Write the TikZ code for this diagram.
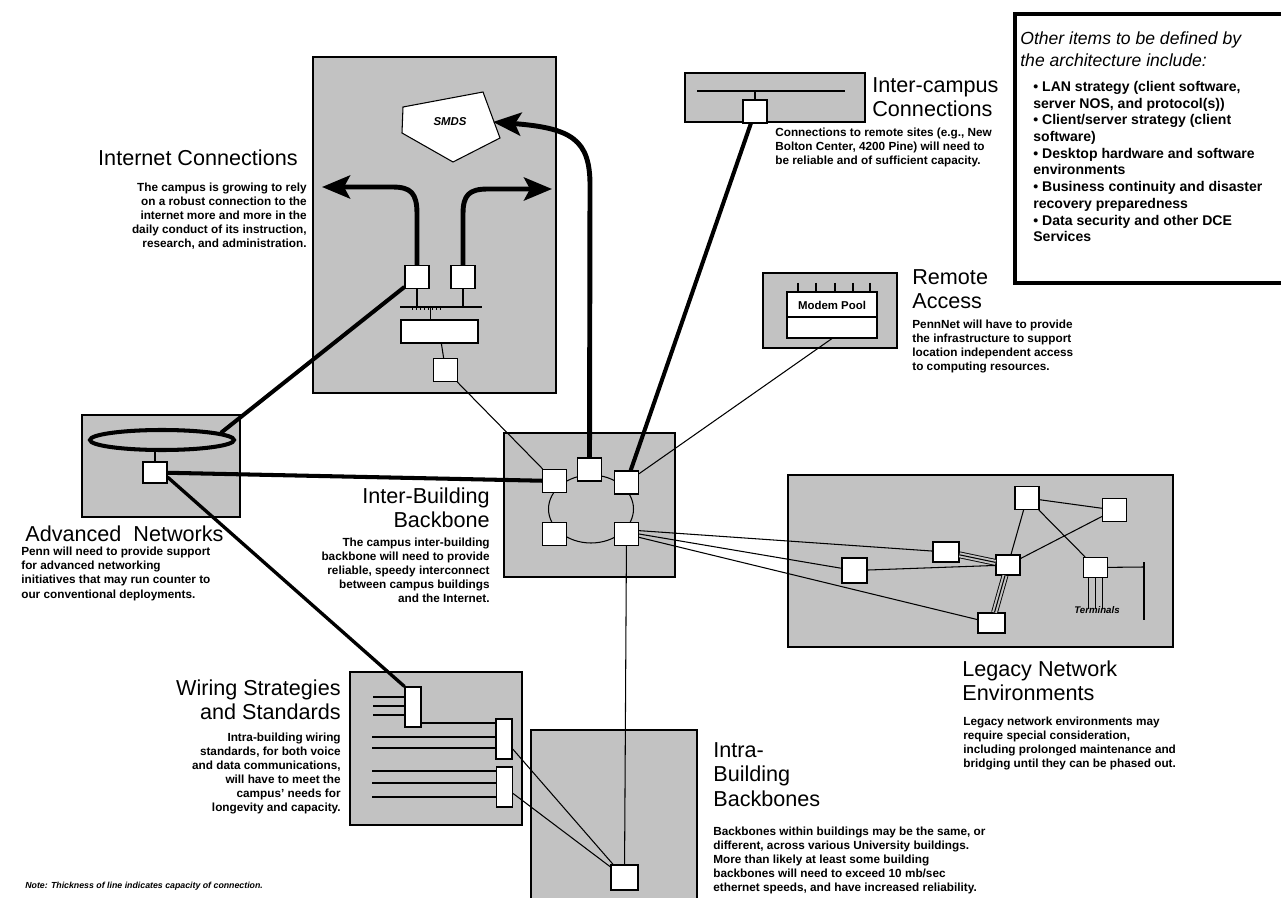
\documentclass[tikz,border=0pt]{standalone}
\usepackage{fontspec}
\setmainfont{Liberation Sans}
\usepackage{tikz}
\usetikzlibrary{arrows.meta,shapes.geometric,calc}
\usepackage{xcolor}
\definecolor{stipple}{gray}{0.76}

\tikzset{
  panel/.style={draw=black, line width=0.6pt, fill=stipple},
  dev/.style={draw=black, fill=white, line width=0.6pt, inner sep=0pt,
    minimum width=0.48cm, minimum height=0.46cm},
  link/.style={line width=0.6pt},
  trunk/.style={line width=2.3pt},
  bigarrow/.style={line width=2.8pt,
    -{Stealth[length=0.56cm, width=0.46cm, inset=0.12cm]}},
  triple/.style={line width=0.5pt, double=stipple, double distance=0.1cm},
  heading/.style={inner sep=0pt, font=\fontsize{12.3}{14}\selectfont},
  blurb/.style={inner sep=0pt, font=\bfseries\fontsize{6.7}{8}\selectfont},
}

\begin{document}
\begin{tikzpicture}[x=0.02cm, y=-0.02cm]
    \fill[white, use as bounding box] (0,0) rectangle (1281,898);
    \clip (0,0) rectangle (1281,898);

    % Panels
    \draw[panel] (313,57) rectangle (556,393);
    \draw[panel] (685,73) rectangle (865,122);
    \draw[panel] (763,273) rectangle (897,348);
    \draw[panel] (82,415) rectangle (240,517);
    \draw[panel] (504,433) rectangle (675,577);
    \draw[panel] (788,475) rectangle (1173,647);
    \draw[panel] (350,672) rectangle (522,825);
    \draw[panel] (531,730) rectangle (697,910);

    % Internet
    \draw[link, fill=white] (403,107) -- (483,92) -- (500,138) -- (453,162) -- (402,133) -- cycle;
    \node[font=\bfseries\itshape\fontsize{6.5}{7}\selectfont] (smds) at (450,122) {SMDS};
    \coordinate (smdsEdge) at (493,122);
    \node[dev] (inA) at (417,277) {};
    \node[dev] (inB) at (463,277) {};
    \node[dev, minimum width=1.54cm] (router) at (439.5,331.5) {};
    \node[dev] (inC) at (445.5,370) {};
    \coordinate (busL) at (400,307);
    \coordinate (busR) at (482,307);
    \draw[link] (busL) -- (busR);
    \foreach \x in {412,416,...,440}
        \draw[line width=0.4pt] (\x,307) -- (\x,310);
    \draw[link] (inA) -- (inA |- busL);
    \draw[link] (inB) -- (inB |- busL);
    \draw[link] ([xshift=-0.18cm]router.north) -- ([xshift=-0.18cm]router.north |- busL);
    \draw[link] (router) -- (inC);
    \coordinate (netW) at (322,187);
    \coordinate (netE) at (552,189);
    \draw[bigarrow] (inA.north) -- (417,214) .. controls (417,193) and (411,187) .. (392,187) -- (netW);
    \draw[bigarrow] (inB.north) -- (463,214) .. controls (463,195) and (469,189) .. (488,189) -- (netE);

    % Inter-campus
    \coordinate (icBus) at (697,91);
    \draw[link] (icBus) -- (845,91);
    \node[dev] (icA) at (755,111.5) {};
    \draw[link] (icA) -- (icA |- icBus);

    % Remote access
    \node[draw, fill=white, line width=0.6pt, inner sep=0pt,
        minimum width=1.8cm, minimum height=0.92cm] (modem) at (832,315) {};
    \draw[link] (787,317) -- (877,317);
    \node[font=\bfseries\fontsize{6.5}{7}\selectfont] (modemTxt) at (832,305) {Modem Pool};
    \foreach \x in {798,816,835,853,870}
        \draw[link] (\x,283) -- (\x,292);

    % Advanced networks
    \node[ellipse, draw, line width=2.3pt, inner sep=0pt,
        minimum width=2.88cm, minimum height=0.4cm] (ring) at (162,440) {};
    \node[dev, minimum height=0.42cm] (adv) at (155,472.5) {};
    \draw[link] (ring.south -| adv) -- (adv);

    % Inter-building backbone
    \node[ellipse, draw, link, minimum width=1.7cm, minimum height=1.36cm] (bbRing) at (591,509) {};
    \node[dev] (bbL) at (554.5,481) {};
    \node[dev] (bbT) at (589.5,469.5) {};
    \node[dev] (bbR) at (626.5,482.5) {};
    \node[dev] (bbBL) at (554.5,534) {};
    \node[dev] (bbBR) at (626.5,534) {};

    % Legacy
    \node[dev] (lgTop) at (1027,498) {};
    \node[dev] (lgTR) at (1114.5,510) {};
    \node[dev, minimum width=0.52cm, minimum height=0.4cm] (lgMid) at (946,552) {};
    \node[dev, minimum height=0.4cm] (lgHub) at (1008,565) {};
    \node[dev, minimum width=0.5cm, minimum height=0.5cm] (lgL) at (854.5,570.5) {};
    \node[dev, minimum height=0.4cm] (lgTerm) at (1095.5,567.5) {};
    \node[dev, minimum width=0.54cm, minimum height=0.4cm] (lgBot) at (991.5,623) {};
    \draw[link] (lgTop) -- (lgTR);
    \draw[link] (lgTop) -- (lgHub);
    \draw[link] (lgTop) -- (lgTerm);
    \draw[link] (lgHub) -- (lgTR);
    \draw[link] (lgL) -- (lgHub);
    \draw[triple] (lgMid) -- (lgHub);
    \draw[link] (lgMid) -- (lgHub);
    \draw[triple] (lgHub) -- (lgBot);
    \draw[link] (lgHub) -- (lgBot);
    \foreach \s in {-7,0,7}
        \draw[link] ([xshift=\s*0.02cm]lgTerm.south) -- ++(0,31);
    \coordinate (termBar) at (1144,567);
    \draw[link] (lgTerm) -- (termBar);
    \draw[link] (1144,562) -- (1144,620);
    \node[font=\bfseries\itshape\fontsize{5.5}{6}\selectfont] (termTxt) at (1097,610) {Terminals};

    % Wiring
    \node[dev, minimum width=0.32cm, minimum height=0.8cm] (w1) at (413,707) {};
    \node[dev, minimum width=0.32cm, minimum height=0.8cm] (w2) at (504,739) {};
    \node[dev, minimum width=0.32cm, minimum height=0.8cm] (w3) at (504.5,787) {};
    \foreach \y in {697,706,715}
        \draw[link] (373,\y) -- (405,\y);
    \draw[link] (421,723) -- (496,723);
    \foreach \y in {737,748}
        \draw[link] (372,\y) -- (496,\y);
    \foreach \y in {771,783,797}
        \draw[link] (372,\y) -- (496.5,\y);

    % Intra-building
    \node[dev, minimum width=0.54cm, minimum height=0.5cm] (ibNode) at (624.5,877.5) {};

    % Connections
    \draw[link] (inC) -- (bbL);
    \draw[trunk] (inA) -- (ring.7);
    \draw[trunk] (adv) -- (bbL);
    \draw[trunk, line width=1.9pt] (adv.-20) -- (w1.north west);
    \draw[bigarrow] (bbT.north) -- (590,185) .. controls (590,140) and (572,128) .. (smdsEdge);
    \draw[trunk] (bbR) -- (icA);
    \draw[link] (bbR) -- (modem.south);
    \draw[link] (bbBR.15) -- (lgMid);
    \draw[link] (bbBR.0) -- (lgL);
    \draw[link] (bbBR.-15) -- (lgBot);
    \draw[link] (bbBR) -- (ibNode);
    \draw[link] (w2) -- (ibNode);
    \draw[link] (w3) -- (ibNode);

    % Other items
    \draw[line width=1.8pt] (1281,14) -- (1015,14) -- (1015,283) -- (1281,283);
    \node[anchor=north west, inner sep=0pt, align=left, font=\itshape\fontsize{10}{13}\selectfont]
        (otherHead) at (1020,31) {Other items to be defined by\\the architecture include:};
    \node[anchor=north west, inner sep=0pt, align=left, font=\bfseries\fontsize{8}{9.5}\selectfont]
        (otherList) at (1033,81) {• LAN strategy (client software,\\server NOS, and protocol(s))\\%
        • Client/server strategy (client\\software)\\• Desktop hardware and software\\environments\\%
        • Business continuity and disaster\\recovery preparedness\\• Data security and other DCE\\Services};

    % Texts
    \node[heading, anchor=east] (netHead) at (298,158) {Internet Connections};
    \node[blurb, anchor=north east, align=right] (netText) at (307,182.5)
        {The campus is growing to rely\\on a robust connection to the\\internet more and more in the\\daily conduct of its instruction,\\research, and administration.};
    \node[heading, anchor=north west, align=left] (icHead) at (872,77) {Inter-campus\\Connections};
    \node[blurb, anchor=north west, align=left] (icText) at (775,127.5)
        {Connections to remote sites (e.g., New\\Bolton Center, 4200 Pine) will need to\\be reliable and of sufficient capacity.};
    \node[heading, anchor=north west, align=left] (raHead) at (912,269) {Remote\\Access};
    \node[blurb, anchor=north west, align=left] (raText) at (912,319.5)
        {PennNet will have to provide\\the infrastructure to support\\location independent access\\to computing resources.};
    \node[heading, anchor=north west] (advHead) at (25,525) {Advanced\ \ Networks};
    \node[blurb, anchor=north west, align=left] (advText) at (21,547)
        {Penn will need to provide support\\for advanced networking\\initiatives that may run counter to\\our conventional deployments.};
    \node[heading, anchor=north east, align=right] (bbHead) at (490,487) {Inter-Building\\Backbone};
    \node[blurb, anchor=north east, align=right] (bbText) at (490,537.5)
        {The campus inter-building\\backbone will need to provide\\reliable, speedy interconnect\\between campus buildings\\and the Internet.};
    \node[heading, anchor=north west, align=left] (lgHead) at (962,660) {Legacy Network\\Environments};
    \node[blurb, anchor=north west, align=left] (lgText) at (963,716.5)
        {Legacy network environments may\\require special consideration,\\including prolonged maintenance and\\bridging until they can be phased out.};
    \node[heading, anchor=north east, align=right] (wsHead) at (341,679) {Wiring Strategies\\and Standards};
    \node[blurb, anchor=north east, align=right] (wsText) at (341,732.5)
        {Intra-building wiring\\standards, for both voice\\and data communications,\\will have to meet the\\campus' needs for\\longevity and capacity.};
    \node[heading, anchor=north west, align=left] (ibHead) at (713,742) {Intra-\\Building\\Backbones};
    \node[blurb, anchor=north west, align=left] (ibText) at (713,826.5)
        {Backbones within buildings may be the same, or\\different, across various University buildings.\\More than likely at least some building\\backbones will need to exceed 10 mb/sec\\ethernet speeds, and have increased reliability.};
    \node[anchor=west, inner sep=0pt, font=\bfseries\itshape\fontsize{5}{6}\selectfont] (note) at (25,886)
        {Note: Thickness of line indicates capacity of connection.};
\end{tikzpicture}
\end{document}
